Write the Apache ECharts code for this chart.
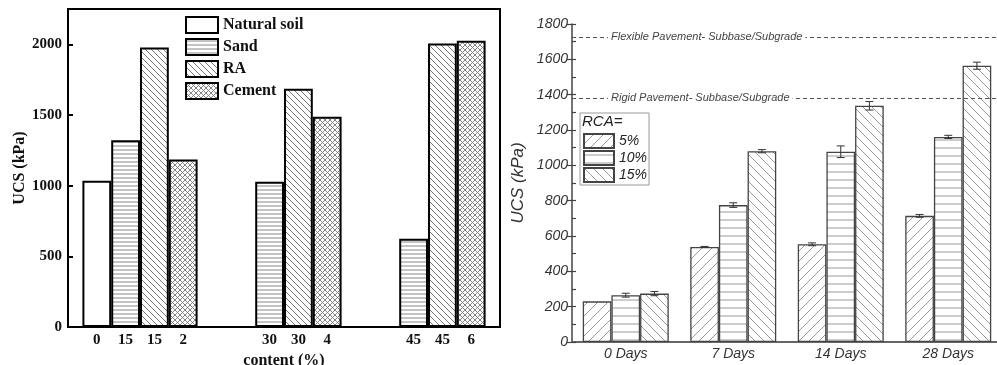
<!DOCTYPE html>
<html>
<head>
<meta charset="utf-8">
<script src="https://cdn.jsdelivr.net/npm/echarts@6/dist/echarts.min.js"></script>
<style>
  html, body { margin: 0; padding: 0; background: #fff; }
  #main { width: 997px; height: 365px; }
</style>
</head>
<body>
<div id="main"></div>
<script>
// left panel: one slot per bar, gaps between the three groups
var slotLabels = ['0', '15', '15', '2', '', '', '30', '30', '4', '', '', '45', '45', '6'];
var materialNames = ['Natural soil', 'Sand', 'RA', 'Cement'];
var naturalSoilSlots = [0];
var naturalSoilUcs = [1035];
var sandSlots = [1, 6, 11];
var sandUcs = [1322, 1027, 624];
var raSlots = [2, 7, 12];
var raUcs = [1978, 1685, 2006];
var cementSlots = [3, 8, 13];
var cementUcs = [1186, 1487, 2025];

// right panel
var curingDays = ['0 Days', '7 Days', '14 Days', '28 Days'];
var rcaNames = ['5%', '10%', '15%'];
var rca5 = [230, 538, 553, 714];
var rca10 = [265, 775, 1077, 1161];
var rca15 = [274, 1080, 1337, 1564];
var err5 = [0, 3, 8, 8];
var err10 = [11, 13, 33, 9];
var err15 = [12, 9, 24, 20];
var limitValues = [1725, 1379];
var limitNames = ['Flexible Pavement- Subbase/Subgrade', 'Rigid Pavement- Subbase/Subgrade'];

function hatch(size, kinds, color, lw) {
  var c = document.createElement('canvas');
  c.width = size;
  c.height = size;
  var g = c.getContext('2d');
  g.fillStyle = '#fff';
  g.fillRect(0, 0, size, size);
  g.strokeStyle = color;
  g.lineWidth = lw;
  kinds.forEach(function (k) {
    g.beginPath();
    if (k === 'h') {
      g.moveTo(0, size / 2);
      g.lineTo(size, size / 2);
    }
    [-size, 0, size].forEach(function (o) {
      if (k === 'b') { g.moveTo(o, 0); g.lineTo(o + size, size); }
      if (k === 'f') { g.moveTo(o + size, 0); g.lineTo(o, size); }
    });
    g.stroke();
  });
  return { image: c, repeat: 'repeat' };
}

function pairs(slots, vals) {
  return slots.map(function (s, i) { return [s, vals[i]]; });
}

var serif = 'Liberation Serif';
var sans = 'Liberation Sans';

var leftFills = [
  '#fff',
  hatch(4, ['h'], '#888', 1),
  hatch(6, ['b'], '#777', 1),
  hatch(5, ['b', 'f'], '#777', 0.9)
];
var leftData = [
  pairs(naturalSoilSlots, naturalSoilUcs),
  pairs(sandSlots, sandUcs),
  pairs(raSlots, raUcs),
  pairs(cementSlots, cementUcs)
];

var rightFills = [
  hatch(10, ['f'], '#9a9a9a', 1),
  hatch(8, ['h'], '#9a9a9a', 1),
  hatch(9, ['b'], '#9a9a9a', 1)
];
var rightData = [rca5, rca10, rca15];
var rightErr = [err5, err10, err15];

var series = [];
materialNames.forEach(function (name, i) {
  series.push({
    name: name,
    type: 'bar',
    xAxisIndex: 0,
    yAxisIndex: 0,
    stack: 'slots',
    barWidth: 28.8,
    data: leftData[i],
    itemStyle: { color: leftFills[i], borderColor: '#000', borderWidth: 2 }
  });
});

rcaNames.forEach(function (name, i) {
  var s = {
    name: name,
    type: 'bar',
    xAxisIndex: 1,
    yAxisIndex: 1,
    barGap: '0%',
    barCategoryGap: '20%',
    data: rightData[i],
    itemStyle: { color: rightFills[i], borderColor: '#444', borderWidth: 1.3 }
  };
  if (i === 2) {
    s.markLine = {
      silent: true,
      symbol: 'none',
      animation: false,
      lineStyle: { color: '#555', type: [4, 3], width: 1 },
      label: {
        position: 'insideStart',
        distance: [36, 0],
        formatter: function (p) { return limitNames[p.dataIndex]; },
        fontFamily: sans,
        fontStyle: 'italic',
        fontSize: 11,
        color: '#444',
        backgroundColor: '#fff',
        padding: [0, 3]
      },
      data: limitValues.map(function (v) { return { yAxis: v }; })
    };
  }
  series.push(s);
});

// error bars
var errData = [];
rightData.forEach(function (vals, s) {
  vals.forEach(function (v, i) {
    if (rightErr[s][i] > 0) errData.push([i, v, rightErr[s][i], s]);
  });
});
series.push({
  type: 'custom',
  xAxisIndex: 1,
  yAxisIndex: 1,
  silent: true,
  data: errData,
  z: 5,
  renderItem: function (params, api) {
    var band = api.size([1, 0])[0];
    var barW = band * 0.8 / 3;
    var off = (api.value(3) - 1) * barW;
    var top = api.coord([api.value(0), api.value(1) + api.value(2)]);
    var bot = api.coord([api.value(0), api.value(1) - api.value(2)]);
    var x = top[0] + off;
    var st = { stroke: '#333', lineWidth: 1 };
    return {
      type: 'group',
      children: [
        { type: 'line', shape: { x1: x, y1: top[1], x2: x, y2: bot[1] }, style: st },
        { type: 'line', shape: { x1: x - 4, y1: top[1], x2: x + 4, y2: top[1] }, style: st },
        { type: 'line', shape: { x1: x - 4, y1: bot[1], x2: x + 4, y2: bot[1] }, style: st }
      ]
    };
  }
});

function plain(v) { return String(v); }

var chart = echarts.init(document.getElementById('main'));
chart.setOption({
  animation: false,
  backgroundColor: '#fff',
  title: {
    text: 'RCA=',
    left: 582,
    top: 114,
    padding: 0,
    textStyle: { fontFamily: sans, fontStyle: 'italic', fontWeight: 'normal', fontSize: 15, color: '#222' }
  },
  legend: [
    {
      data: materialNames,
      orient: 'vertical',
      left: 185,
      top: 16,
      padding: 0,
      itemWidth: 32,
      itemHeight: 16,
      itemGap: 4,
      icon: 'rect',
      textStyle: { fontFamily: serif, fontWeight: 'bold', fontSize: 16, color: '#111' }
    },
    {
      data: rcaNames,
      orient: 'vertical',
      left: 580,
      top: 113,
      padding: [20, 2, 2, 3],
      itemWidth: 30,
      itemHeight: 14,
      itemGap: 1,
      icon: 'rect',
      borderColor: '#999',
      borderWidth: 1,
      textStyle: { fontFamily: sans, fontStyle: 'italic', fontSize: 14, color: '#222' }
    }
  ],
  grid: [
    { left: 68, top: 9, width: 432, height: 318, show: true, borderColor: '#000', borderWidth: 2, outerBoundsMode: 'none' },
    { left: 572, top: 24, width: 430, height: 318, outerBoundsMode: 'none' }
  ],
  xAxis: [
    {
      gridIndex: 0,
      type: 'value',
      min: -1,
      max: 14,
      interval: 1,
      name: 'content (%)',
      nameLocation: 'middle',
      nameGap: 22,
      nameTextStyle: { fontFamily: serif, fontWeight: 'bold', fontSize: 16, color: '#111' },
      axisLine: { onZero: false, lineStyle: { color: '#000', width: 2 } },
      axisTick: { show: false },
      splitLine: { show: false },
      axisLabel: {
        margin: 6,
        fontFamily: serif,
        fontWeight: 'bold',
        fontSize: 15,
        color: '#111',
        formatter: function (v) { return slotLabels[v] || ''; }
      }
    },
    {
      gridIndex: 1,
      type: 'category',
      data: curingDays,
      axisLine: { lineStyle: { color: '#444', width: 1.5 } },
      axisTick: {
        length: 20,
        interval: function (i) { return i > 0; },
        lineStyle: { color: '#444', width: 1.5 }
      },
      axisLabel: { margin: 5, fontFamily: sans, fontStyle: 'italic', fontSize: 14, color: '#333' }
    },
    {
      gridIndex: 1,
      type: 'category',
      position: 'top',
      data: curingDays,
      axisLine: { lineStyle: { color: '#666', width: 2 } },
      axisTick: { show: false },
      axisLabel: { show: false }
    }
  ],
  yAxis: [
    {
      gridIndex: 0,
      type: 'value',
      position: 'left',
      min: 0,
      max: 2250,
      interval: 500,
      name: 'UCS (kPa)',
      nameLocation: 'middle',
      nameGap: 33,
      nameTextStyle: { fontFamily: serif, fontWeight: 'bold', fontSize: 16, color: '#111' },
      axisLine: { show: true, onZero: false, lineStyle: { color: '#000', width: 2 } },
      axisTick: { show: true, inside: true, length: 5, lineStyle: { color: '#000', width: 2 } },
      splitLine: { show: false },
      axisLabel: { margin: 6, showMaxLabel: false, formatter: plain, fontFamily: serif, fontWeight: 'bold', fontSize: 15, color: '#111' }
    },
    {
      gridIndex: 1,
      type: 'value',
      position: 'left',
      min: 0,
      max: 1800,
      interval: 200,
      name: 'UCS (kPa)',
      nameLocation: 'middle',
      nameGap: 45,
      nameTextStyle: { fontFamily: sans, fontStyle: 'italic', fontSize: 17, color: '#333' },
      axisLine: { show: true, onZero: false, lineStyle: { color: '#444', width: 1.5 } },
      axisTick: { show: true, length: 5, lineStyle: { color: '#444', width: 1.2 } },
      splitLine: { show: false },
      axisLabel: { margin: 4, formatter: plain, fontFamily: sans, fontStyle: 'italic', fontSize: 14, color: '#333' }
    },
    {
      gridIndex: 1,
      type: 'value',
      position: 'left',
      offset: 0,
      min: 0,
      max: 1800,
      interval: 100,
      axisLine: { show: false, onZero: false },
      axisTick: { show: true, inside: true, length: 4, lineStyle: { color: '#444', width: 1.2 } },
      splitLine: { show: false },
      axisLabel: { show: false }
    }
  ],
  series: series
});
window.addEventListener('resize', function () {
  chart.resize();
});
</script>
</body>
</html>
